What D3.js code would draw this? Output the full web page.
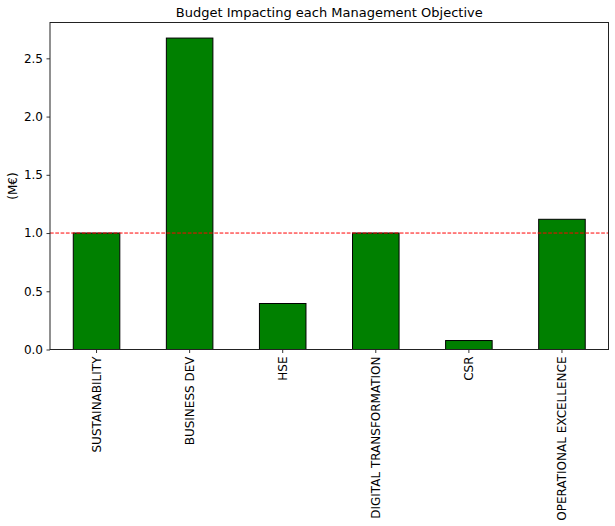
<!DOCTYPE html>
<html>
<head>
<meta charset="utf-8">
<script src="https://cdn.jsdelivr.net/npm/d3@7"></script>
<style>
  body { margin: 0; background: #fff; }
  text { font-family: "DejaVu Sans", sans-serif; fill: #000; }
</style>
</head>
<body>
<svg id="chart" width="615" height="526"></svg>
<script>
var objectives = ["SUSTAINABILITY", "BUSINESS DEV", "HSE", "DIGITAL TRANSFORMATION", "CSR", "OPERATIONAL EXCELLENCE"];
var budget = [1.0, 2.674, 0.395, 1.0, 0.077, 1.118];
var yTicks = [0, 0.5, 1.0, 1.5, 2.0, 2.5];
var threshold = 1.0;

var svg = d3.select("#chart"),
    margin = {top: 22.5, right: 6.5, bottom: 176.5, left: 50},
    width = +svg.attr("width") - margin.left - margin.right,
    height = +svg.attr("height") - margin.top - margin.bottom,
    g = svg.append("g").attr("transform", "translate(" + margin.left + "," + margin.top + ")");

var x = d3.scaleBand()
    .domain(objectives)
    .range([0, width])
    .paddingInner(0.5)
    .paddingOuter(0.25);

var y = d3.scaleLinear()
    .domain([0, d3.max(budget) * 1.05])
    .range([height, 0]);

// bars
g.selectAll(".bar")
    .data(objectives)
  .enter().append("rect")
    .attr("class", "bar")
    .attr("x", function(d) { return x(d); })
    .attr("y", function(d, i) { return y(budget[i]); })
    .attr("width", x.bandwidth())
    .attr("height", function(d, i) { return height - y(budget[i]); })
    .attr("fill", "green")
    .attr("stroke", "black")
    .attr("stroke-width", 1);

// threshold line
g.append("line")
    .attr("x1", 0)
    .attr("x2", width)
    .attr("y1", y(threshold))
    .attr("y2", y(threshold))
    .attr("stroke", "red")
    .attr("stroke-width", 1)
    .attr("stroke-dasharray", "3.7,1.6");

// axes
var xAxis = g.append("g")
    .attr("transform", "translate(0," + height + ")")
    .call(d3.axisBottom(x).tickSize(3.5).tickPadding(3.5).tickSizeOuter(0));
xAxis.selectAll("text")
    .attr("transform", "rotate(-90)")
    .attr("x", -7)
    .attr("y", 0)
    .attr("dy", "0.35em")
    .attr("text-anchor", "end")
    .style("font-size", "12px")
    .style("font-family", "DejaVu Sans");

var yAxis = g.append("g")
    .call(d3.axisLeft(y).tickValues(yTicks).tickFormat(d3.format(".1f")).tickSize(3.5).tickPadding(3.5).tickSizeOuter(0));
yAxis.selectAll("text")
    .style("font-size", "12px")
    .style("font-family", "DejaVu Sans");

g.selectAll(".domain").remove();
g.selectAll(".tick line").attr("stroke", "black").attr("stroke-width", 0.8);

// frame
g.append("rect")
    .attr("width", width)
    .attr("height", height)
    .attr("fill", "none")
    .attr("stroke", "#222")
    .attr("stroke-width", 1);

// labels
svg.append("text")
    .attr("transform", "translate(13," + (margin.top + height / 2) + ") rotate(-90)")
    .attr("text-anchor", "middle")
    .attr("dy", "0.35em")
    .style("font-size", "12px")
    .text("(M€)");

svg.append("text")
    .attr("x", margin.left + width / 2)
    .attr("y", margin.top - 5.5)
    .attr("text-anchor", "middle")
    .style("font-size", "13px")
    .text("Budget Impacting each Management Objective");
</script>
</body>
</html>
